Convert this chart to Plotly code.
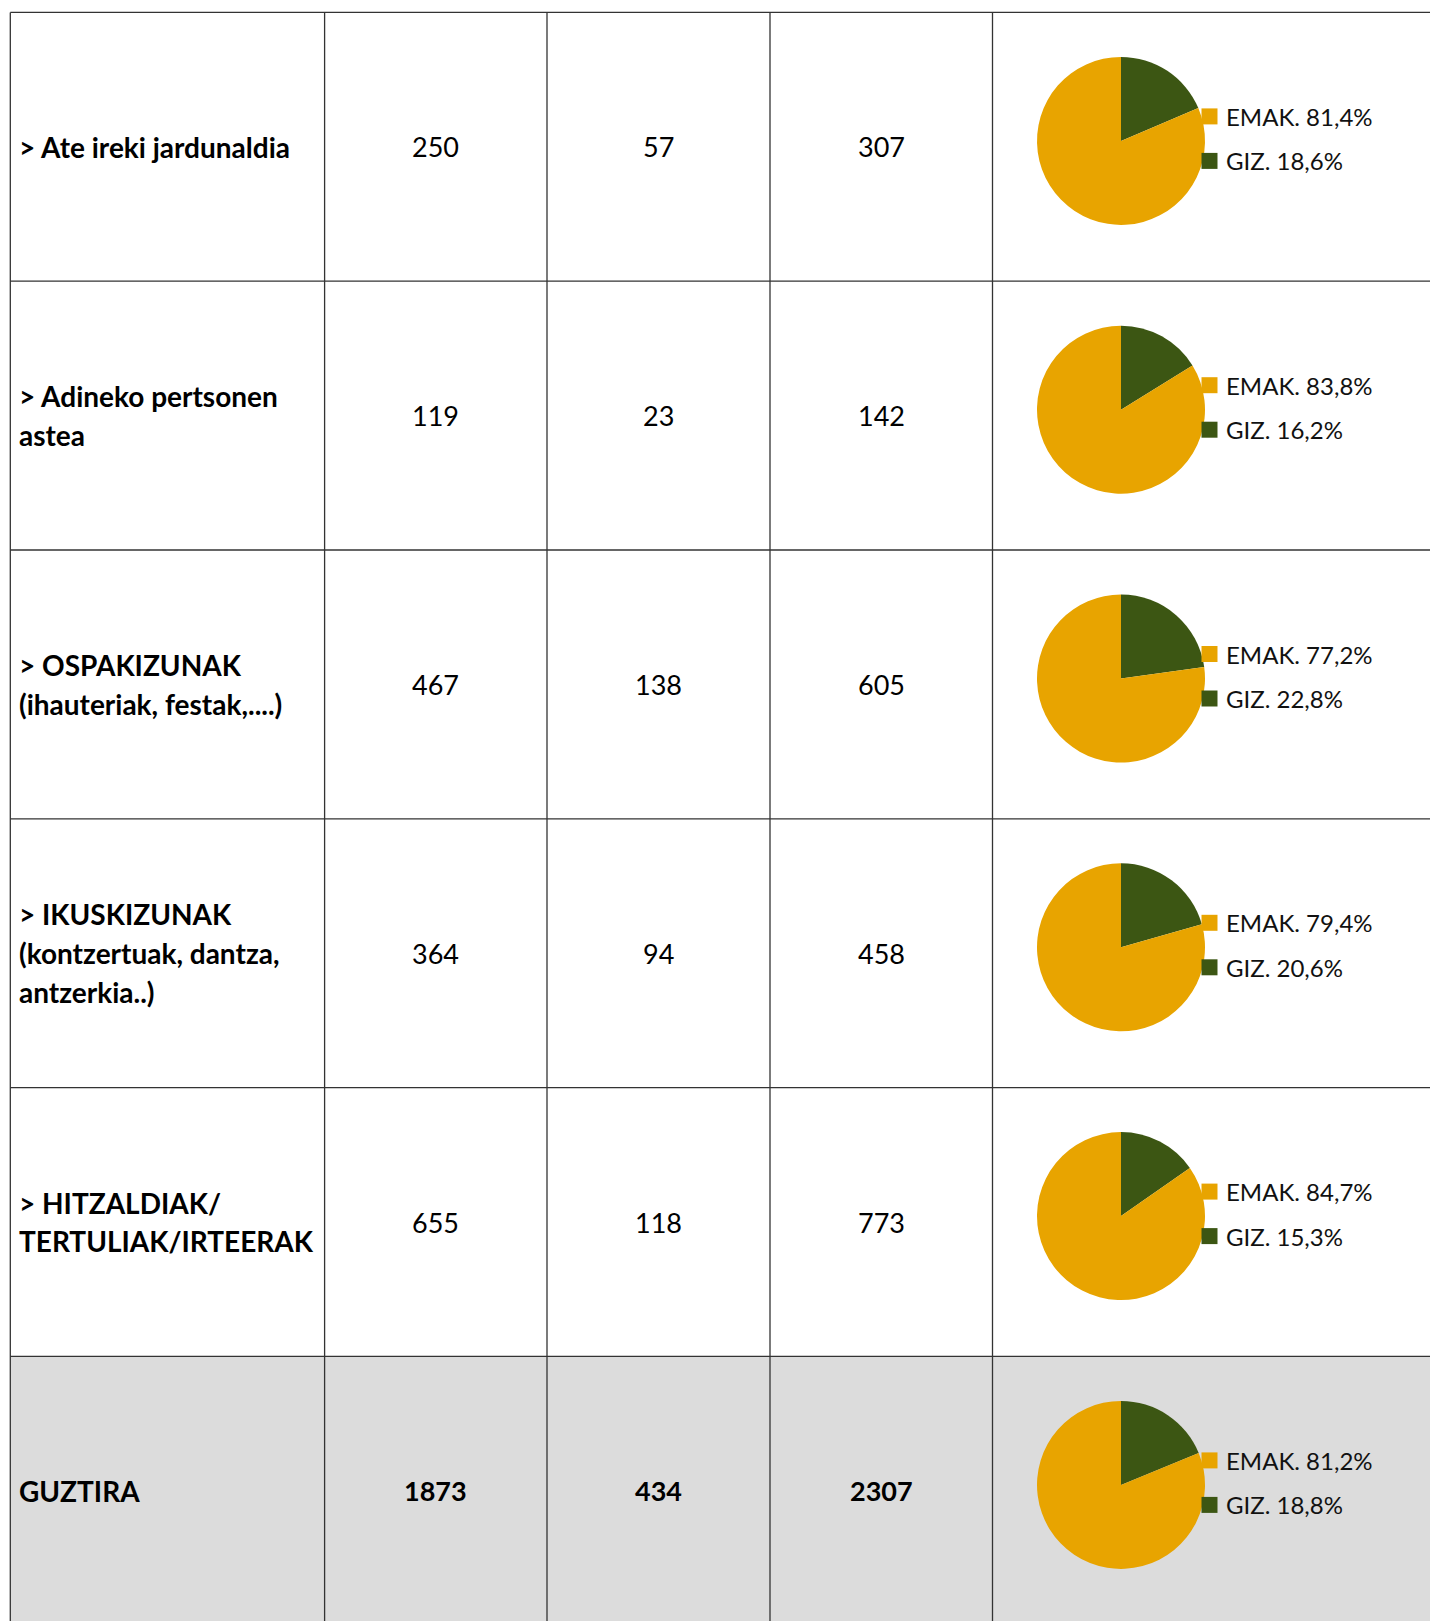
import plotly.graph_objects as go

# ---------------- data ----------------
categories = [
    "> Ate ireki jardunaldia",
    "> Adineko pertsonen<br>astea",
    "> OSPAKIZUNAK<br>(ihauteriak, festak,....)",
    "> IKUSKIZUNAK<br>(kontzertuak, dantza,<br>antzerkia..)",
    "> HITZALDIAK/<br>TERTULIAK/IRTEERAK",
    "GUZTIRA",
]
emak = [250, 119, 467, 364, 655, 1873]
giz = [57, 23, 138, 94, 118, 434]
guztira = [307, 142, 605, 458, 773, 2307]
emak_pct = [81.4, 83.8, 77.2, 79.4, 84.7, 81.2]
giz_pct = [18.6, 16.2, 22.8, 20.6, 15.3, 18.8]
series_labels = ["EMAK.", "GIZ."]
series_colors = ["#E8A400", "#3C5613"]

# ---------------- layout geometry ----------------
W, H = 1438, 1621
OFF = 8  # page body margin compensation
col_x = [10.3, 324.6, 547.0, 770.0, 992.5]
col_x = [c - OFF for c in col_x]
x_right = W + 20
row_top0 = 12.4 - OFF
row_h = 268.8
line_col = "#333333"
total_fill = "#DCDCDC"
FONT = "Lato"
fs_label = 28
fs_cell = 27
line_gap = 38.8
pie_r = 84
pie_cx = 1121 - OFF
pie_dy = 128.5
sq = 16
sq_x0 = 1201.5 - OFF
leg_text_x = 1224 - OFF
leg_offsets = [-24.5, 20]
fs_leg = 24
label_x = 17 - OFF

n = len(categories)
fig = go.Figure()

shapes = []
annotations = []


def row_top(i):
    return row_top0 + i * row_h


# total row background
shapes.append(dict(type="rect", xref="x", yref="y", x0=col_x[0], x1=x_right,
                   y0=row_top(n - 1), y1=row_top(n) + 40, fillcolor=total_fill,
                   line=dict(width=0), layer="below"))
# horizontal lines
for i in range(n + 1):
    shapes.append(dict(type="line", xref="x", yref="y", x0=col_x[0], x1=x_right,
                       y0=row_top(i), y1=row_top(i),
                       line=dict(color=line_col, width=1.3)))
# vertical lines
for cx in col_x:
    shapes.append(dict(type="line", xref="x", yref="y", x0=cx, x1=cx,
                       y0=row_top(0), y1=row_top(n) + 40,
                       line=dict(color=line_col, width=1.3)))

for i in range(n):
    yc = row_top(i) + row_h / 2
    is_total = i == n - 1
    # label lines
    parts = categories[i].split("<br>")
    for k, p in enumerate(parts):
        yy = yc + (k - (len(parts) - 1) / 2) * line_gap
        annotations.append(dict(x=label_x, y=yy, xref="x", yref="y", text=p,
                                showarrow=False, xanchor="left", yanchor="middle",
                                font=dict(family=FONT, size=fs_label, color="black",
                                          weight="bold")))
    # numbers
    for j, vals in enumerate([emak, giz, guztira]):
        xc = (col_x[j + 1] + col_x[j + 2]) / 2
        annotations.append(dict(x=xc, y=yc, xref="x", yref="y", text=str(vals[i]),
                                showarrow=False, xanchor="center", yanchor="middle",
                                font=dict(family=FONT, size=fs_cell, color="black",
                                          weight="bold" if is_total else "normal")))
    # pie (GIZ slice drawn first, clockwise from 12 o'clock)
    cy = row_top(i) + pie_dy
    fig.add_trace(go.Pie(
        values=[giz_pct[i], emak_pct[i]],
        labels=[series_labels[1], series_labels[0]],
        marker=dict(colors=[series_colors[1], series_colors[0]], line=dict(width=0)),
        sort=False, direction="clockwise", rotation=0,
        textinfo="none", hoverinfo="label+percent", showlegend=False,
        domain=dict(x=[(pie_cx - pie_r) / W, (pie_cx + pie_r) / W],
                    y=[1 - (cy + pie_r) / H, 1 - (cy - pie_r) / H]),
    ))
    # legend
    pcts = [emak_pct[i], giz_pct[i]]
    for k in range(2):
        ly = cy + leg_offsets[k]
        shapes.append(dict(type="rect", xref="x", yref="y", x0=sq_x0, x1=sq_x0 + sq,
                           y0=ly - sq / 2, y1=ly + sq / 2, fillcolor=series_colors[k],
                           line=dict(width=0)))
        txt = f"{series_labels[k]} " + f"{pcts[k]:.1f}".replace(".", ",") + "%"
        annotations.append(dict(x=leg_text_x, y=ly, xref="x", yref="y", text=txt,
                                showarrow=False, xanchor="left", yanchor="middle",
                                font=dict(family=FONT, size=fs_leg, color="#111111")))

fig.update_layout(
    width=W, height=H,
    margin=dict(l=0, r=0, t=0, b=0),
    paper_bgcolor="white", plot_bgcolor="rgba(0,0,0,0)",
    xaxis=dict(range=[0, W], visible=False, fixedrange=True),
    yaxis=dict(range=[H, 0], visible=False, fixedrange=True),
    shapes=shapes, annotations=annotations,
    showlegend=False,
)
fig.write_html("out.html")
